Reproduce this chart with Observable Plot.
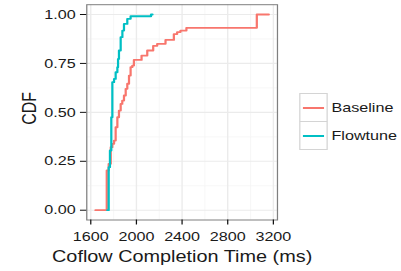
<!DOCTYPE html>
<html><head><meta charset="utf-8">
<script src="https://cdn.jsdelivr.net/npm/d3@7"></script>
<script src="https://cdn.jsdelivr.net/npm/@observablehq/plot@0.6"></script>
<style>
html,body{margin:0;padding:0;background:#fff;overflow:hidden;}
#wrap{position:relative;width:323px;height:271px;transform:scaleX(1.2415);transform-origin:0 0;font-family:"Liberation Sans",Arial,sans-serif;color:#1a1a1a;}
#legend{position:absolute;left:240.5px;top:93.3px;}
.row{display:flex;align-items:center;height:29px;}
.row + .row{margin-top:-1px;}
.key{width:23px;height:29px;box-sizing:border-box;border:1px solid #D4D4D4;position:relative;background:#fff;flex:none;}
.key span{position:absolute;left:2.2px;width:17.6px;top:50%;height:1.7px;margin-top:-0.85px;}
.lab{margin-left:3.5px;font-size:13px;line-height:13px;white-space:nowrap;}
</style>
</head><body>
<div id="wrap"><div id="chart"></div><div id="legend"></div></div>
<script>
const seriesNames = ["Baseline", "Flowtune"];
const seriesColors = ["#F8766D", "#00BFC4"];
const baselineX = [1641, 1740, 1757, 1775, 1789, 1804, 1818, 1833, 1847, 1862, 1876, 1891, 1906, 1920, 1935, 1949, 1964, 1978, 2045, 2095, 2147, 2182, 2255, 2328, 2357, 2386, 2438, 3055, 3160];
const baselineY = [0, 0.203, 0.237, 0.322, 0.339, 0.356, 0.424, 0.475, 0.509, 0.543, 0.560, 0.586, 0.620, 0.646, 0.688, 0.731, 0.739, 0.768, 0.790, 0.816, 0.840, 0.850, 0.870, 0.900, 0.910, 0.918, 0.932, 1.0, 1.0];
const flowtuneX = [1745, 1757, 1768, 1780, 1789, 1804, 1818, 1833, 1839, 1847, 1862, 1877, 1891, 1920, 1949, 2128, 2141];
const flowtuneY = [0, 0.22, 0.305, 0.475, 0.654, 0.671, 0.705, 0.731, 0.773, 0.816, 0.884, 0.918, 0.952, 0.978, 0.991, 1.0, 1.0];
const xTicks = [1600, 2000, 2400, 2800, 3200];
const xMinor = [1800, 2200, 2600, 3000];
const yTicks = [0, 0.25, 0.5, 0.75, 1];
const yMinor = [0.125, 0.375, 0.625, 0.875];
const xTitle = "Coflow Completion Time (ms)";
const yTitle = "CDF";

const baseline = baselineX.map((x, i) => ({x, y: baselineY[i]}));
const flowtune = flowtuneX.map((x, i) => ({x, y: flowtuneY[i]}));

const chart = Plot.plot({
  width: 323, height: 271,
  marginLeft: 69.4, marginRight: 100, marginTop: 4.2, marginBottom: 51.5,
  style: {fontFamily: "Liberation Sans, Arial, sans-serif", fontSize: "13px", color: "#1a1a1a", background: "white", overflow: "visible"},
  x: {domain: [1565, 3236]},
  y: {domain: [-0.05, 1.05]},
  marks: [
    Plot.gridX(xMinor, {stroke: "#F3F3F3", strokeOpacity: 1, strokeWidth: 0.6}),
    Plot.gridY(yMinor, {stroke: "#F3F3F3", strokeOpacity: 1, strokeWidth: 0.6}),
    Plot.gridX(xTicks, {stroke: "#EBEBEB", strokeOpacity: 1, strokeWidth: 1.1}),
    Plot.gridY(yTicks, {stroke: "#EBEBEB", strokeOpacity: 1, strokeWidth: 1.1}),
    Plot.line(baseline, {x: "x", y: "y", curve: "step-after", stroke: seriesColors[0], strokeWidth: 1.8}),
    Plot.line(flowtune, {x: "x", y: "y", curve: "step-after", stroke: seriesColors[1], strokeWidth: 1.8}),
    Plot.frame({stroke: "#7F7F7F", strokeWidth: 1}),
    Plot.axisX(xTicks, {tickSize: 5, tickPadding: 6.5, tickFormat: d => String(d), label: null, fontSize: 13, stroke: "#111"}),
    Plot.axisY(yTicks, {tickSize: 5, tickPadding: 4, tickFormat: d3.format(".2f"), label: null, fontSize: 13, stroke: "#111"}),
    Plot.text([xTitle], {text: d => d, frameAnchor: "bottom", textAnchor: "middle", lineAnchor: "top", dy: 30.5, fontSize: 16}),
    Plot.text([yTitle], {text: d => d, frameAnchor: "left", textAnchor: "middle", rotate: -90, lineAnchor: "top", dx: -52, dy: -4, fontSize: 16})
  ]
});
document.getElementById("chart").appendChild(chart);

const legend = document.getElementById("legend");
seriesNames.forEach((name, i) => {
  const row = document.createElement("div");
  row.className = "row";
  row.innerHTML = `<div class="key"><span style="background:${seriesColors[i]}"></span></div><div class="lab">${name}</div>`;
  legend.appendChild(row);
});
</script>
</body></html>
